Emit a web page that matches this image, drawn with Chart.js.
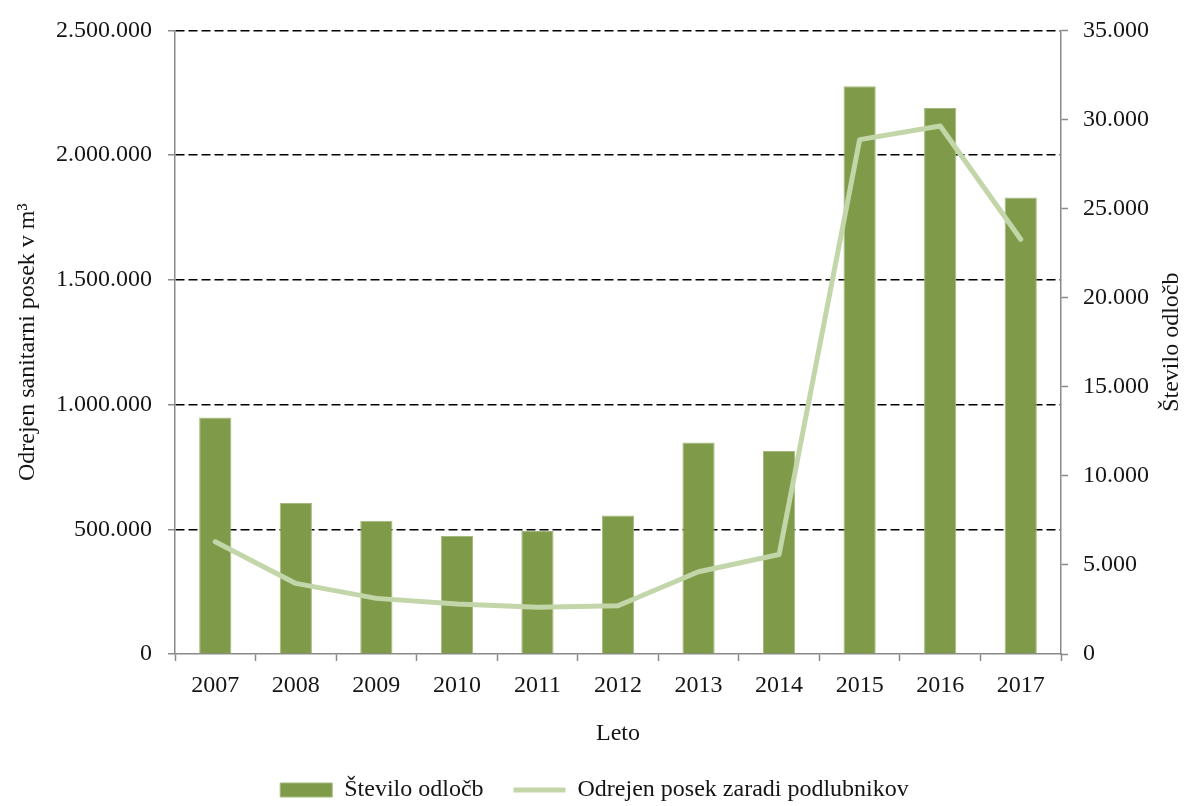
<!DOCTYPE html>
<html>
<head>
<meta charset="utf-8">
<script src="https://cdn.jsdelivr.net/npm/chart.js@4.4.1/dist/chart.umd.min.js"></script>
<style>
  html, body { margin: 0; padding: 0; background: #fff; }
  #wrap { width: 1189px; height: 806px; position: relative; }
</style>
</head>
<body>
<div id="wrap"><canvas id="myChart"></canvas></div>
<script>
const years = ["2007", "2008", "2009", "2010", "2011", "2012", "2013", "2014", "2015", "2016", "2017"];
// Število odločb (desna os)
const steviloOdlocb = [13280, 8470, 7480, 6620, 6900, 7780, 11870, 11390, 31860, 30640, 25620];
// Odrejen posek zaradi podlubnikov v m3 (leva os)
const odrejenPosek = [450000, 283000, 223000, 200000, 187000, 193500, 330000, 399000, 2062000, 2117000, 1663000];

const leftTitle = "Odrejen sanitarni posek v m³";
const rightTitle = "Število odločb";
const xTitle = "Leto";

const textColor = "#151515";
const axisColor = "#8a8a8a";
const fontFamily = '"Liberation Serif", "Times New Roman", serif';

const fmt = (v) => String(v).replace(/\B(?=(\d{3})+(?!\d))/g, ".");

const rightTitlePlugin = {
  id: "rightTitle",
  afterDraw(chart) {
    const ctx = chart.ctx;
    const area = chart.chartArea;
    ctx.save();
    ctx.translate(chart.scales.y1.right - 17, (area.top + area.bottom) / 2);
    ctx.rotate(-Math.PI / 2);
    ctx.font = "24px " + fontFamily;
    ctx.fillStyle = textColor;
    ctx.textAlign = "center";
    ctx.textBaseline = "middle";
    ctx.fillText(rightTitle, 0, 0);
    ctx.restore();
  },
};

const ctx = document.getElementById("myChart");
const chart = new Chart(ctx, {
  type: "bar",
  data: {
    labels: years,
    datasets: [
      {
        type: "bar",
        label: "Število odločb",
        data: steviloOdlocb,
        yAxisID: "y1",
        backgroundColor: "#7f9b4a",
        borderColor: "#a4ba7c",
        borderWidth: 1,
        categoryPercentage: 1,
        barPercentage: 0.4,
        pointStyle: "rect",
        order: 2,
      },
      {
        type: "line",
        label: "Odrejen posek zaradi podlubnikov",
        data: odrejenPosek,
        yAxisID: "y",
        borderColor: "#c3d6a9",
        backgroundColor: "#c3d6a9",
        borderWidth: 5,
        borderCapStyle: "round",
        borderJoinStyle: "round",
        pointRadius: 0,
        pointStyle: "line",
        tension: 0,
        fill: false,
        order: 1,
      },
    ],
  },
  options: {
    responsive: true,
    maintainAspectRatio: false,
    animation: false,
    layout: { padding: { left: 0, right: 0, top: 30, bottom: -6 } },
    font: { family: fontFamily },
    plugins: {
      tooltip: { enabled: false },
      legend: {
        position: "bottom",
        labels: {
          usePointStyle: true,
          pointStyleWidth: 52,
          boxHeight: 14,
          padding: 30,
          color: textColor,
          font: { family: fontFamily, size: 24 },
          sort: (a, b) => a.datasetIndex - b.datasetIndex,
        },
      },
    },
    scales: {
      x: {
        offset: true,
        grid: {
          offset: true,
          drawOnChartArea: false,
          tickLength: 7,
          tickColor: axisColor,
          tickWidth: 1.5,
        },
        border: { color: axisColor, width: 1.5 },
        ticks: { color: textColor, font: { family: fontFamily, size: 24 }, padding: 10 },
        title: {
          display: true,
          text: xTitle,
          color: textColor,
          font: { family: fontFamily, size: 24 },
          padding: { top: 0, bottom: 0 },
        },
        afterFit: (scale) => { scale.height = 94; },
      },
      y: {
        position: "left",
        min: 0,
        max: 2500000,
        ticks: {
          stepSize: 500000,
          color: textColor,
          font: { family: fontFamily, size: 24 },
          padding: 16,
          callback: (v) => fmt(v),
        },
        grid: {
          color: (c) => (c.tick && c.tick.value === 0 ? "rgba(0,0,0,0)" : "#000"),
          lineWidth: 1.5,
          tickLength: 7,
          tickColor: axisColor,
          tickWidth: 1.5,
        },
        border: { color: axisColor, width: 1.5, dash: [9, 4] },
        title: {
          display: true,
          text: leftTitle,
          color: textColor,
          font: { family: fontFamily, size: 24 },
          padding: { top: 13, bottom: 0 },
        },
        afterFit: (scale) => { scale.width = 175; },
      },
      y1: {
        position: "right",
        min: 0,
        max: 35000,
        ticks: {
          stepSize: 5000,
          color: textColor,
          font: { family: fontFamily, size: 24 },
          padding: 15,
          callback: (v) => fmt(v),
        },
        grid: {
          drawOnChartArea: false,
          tickLength: 7,
          tickColor: axisColor,
          tickWidth: 1.5,
        },
        border: { color: axisColor, width: 1.5 },
        afterFit: (scale) => { scale.width = 128; },
      },
    },
  },
  plugins: [rightTitlePlugin],
});
</script>
</body>
</html>
